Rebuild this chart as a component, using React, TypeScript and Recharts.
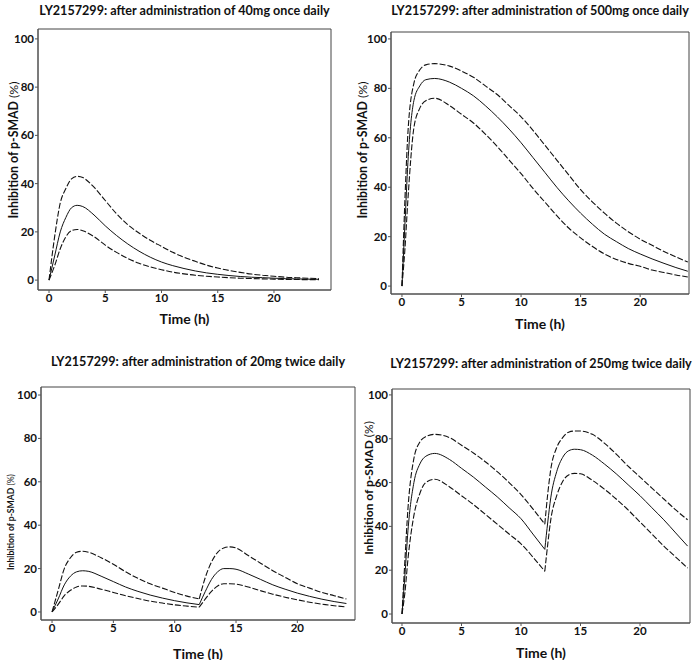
import { LineChart, Line, XAxis, YAxis, ReferenceArea } from 'recharts'

const FONT = 'Lato, "Open Sans", sans-serif'
const X_TICKS = [0, 5, 10, 15, 20]
const Y_TICKS = [0, 20, 40, 60, 80, 100]

// 40mg once daily
const T_40 = [0, 0.5, 1, 1.5, 2, 2.5, 3, 4, 5, 6, 7, 8, 9, 10, 11, 12, 13, 14, 15, 16, 17, 18, 19, 20, 21, 22, 23, 24]
const UPPER_40 = [0, 18, 32, 38, 42, 43, 42.5, 38.5, 33, 27.5, 23, 19.5, 16.5, 14, 11.5, 9.5, 7.8, 6.2, 5, 4, 3.2, 2.5, 2, 1.6, 1.2, 1, 0.8, 0.6]
const MEDIAN_40 = [0, 10, 20, 26, 30, 31, 30.5, 27, 22.5, 18.5, 15, 12, 9.5, 7.5, 6, 4.8, 3.8, 3, 2.4, 1.9, 1.5, 1.2, 1, 0.8, 0.6, 0.5, 0.4, 0.35]
const LOWER_40 = [0, 6, 13, 18, 20.5, 21, 20.5, 18, 14.5, 11.5, 9, 7, 5.5, 4.3, 3.3, 2.6, 2, 1.6, 1.3, 1, 0.8, 0.65, 0.5, 0.4, 0.3, 0.25, 0.2, 0.2]

// 500mg once daily
const T_500 = [0, 0.25, 0.5, 1, 1.5, 2, 2.75, 4, 5, 6, 7, 8, 9, 10, 11, 12, 13, 14, 15, 16, 17, 18, 19, 20, 21, 22, 23, 24]
const UPPER_500 = [0, 35, 62, 82, 87.5, 89.5, 90, 89, 87, 84.5, 81, 77.5, 73, 68.5, 63, 57, 51, 45, 39, 34, 29.5, 25.5, 22, 19, 16.5, 14, 11.8, 9.7]
const MEDIAN_500 = [0, 25, 50, 75, 81, 83.5, 84, 82.5, 80, 77, 73, 68.5, 63.5, 58, 52, 46, 40, 34.5, 29.5, 25, 21, 18, 15.2, 13, 11, 9.2, 7.5, 6]
const LOWER_500 = [0, 15, 35, 64, 72, 75, 76, 73, 69.5, 66, 61.5, 56.5, 51, 45.5, 39.5, 34, 28.5, 23.5, 19.5, 16, 13, 10.8, 9.2, 8, 6.5, 5.5, 4.5, 3.7]

// 20mg twice daily (first dose 0-12 h, second dose 12-24 h)
const T_20_A = [0, 0.5, 1, 1.5, 2, 2.5, 3, 4, 5, 6, 7, 8, 9, 10, 11, 12]
const T_20_B = [12, 12.5, 13, 13.5, 14, 14.5, 15, 16, 17, 18, 19, 20, 21, 22, 23, 24]
const UPPER_20_A = [0, 10, 20, 25, 27.5, 28, 27.5, 25, 22, 18.5, 15.5, 13, 11, 9, 7.3, 6]
const UPPER_20_B = [6, 16, 23, 27.5, 29.5, 30, 29.5, 26, 22.5, 19, 16, 13, 11, 9, 7.5, 6]
const MEDIAN_20_A = [0, 6, 12.5, 16.5, 18.5, 19, 18.7, 16.5, 14, 11.5, 9.5, 7.8, 6.4, 5.2, 4.2, 3.4]
const MEDIAN_20_B = [3.4, 9.5, 15, 18.5, 20, 20, 19.7, 17.5, 15, 12.5, 10.5, 8.7, 7.2, 5.9, 4.8, 3.9]
const LOWER_20_A = [0, 3.5, 7.5, 10, 11.5, 12, 11.8, 10.5, 9, 7.5, 6.2, 5, 4.1, 3.3, 2.7, 2.2]
const LOWER_20_B = [2.2, 6, 9.5, 12, 13, 13, 12.8, 11.5, 9.8, 8.2, 6.8, 5.6, 4.5, 3.6, 2.9, 2.3]

// 250mg twice daily
const T_250_A = [0, 0.25, 0.5, 1, 1.5, 2, 2.75, 4, 5, 6, 7, 8, 9, 10, 11, 12]
const T_250_B = [12, 12.25, 12.5, 13, 13.5, 14, 14.5, 15, 16, 17, 18, 19, 20, 21, 22, 23, 24]
const UPPER_250_A = [0, 25, 48, 71, 78.5, 81, 82, 80.5, 77, 73.5, 69.5, 65, 60, 54.5, 48, 41]
const UPPER_250_B = [41, 55, 66, 76, 80.5, 83, 83.5, 83.5, 82, 78, 73, 67.5, 62.5, 57.5, 52.5, 47.5, 43]
const MEDIAN_250_A = [0, 18, 38, 60, 68.5, 72, 73.3, 70.5, 66.5, 62.5, 58, 53.5, 48.5, 43.5, 36.5, 29.5]
const MEDIAN_250_B = [29.5, 42, 53, 65, 71.5, 74.5, 75.2, 75, 72.5, 68.5, 64, 59, 54, 48.5, 43, 37, 31]
const LOWER_250_A = [0, 10, 25, 45, 55, 60, 61.5, 58, 54, 50, 45.5, 41, 36.5, 32, 26, 19.5]
const LOWER_250_B = [19.5, 32, 43, 54, 60.5, 63.5, 64.2, 64, 61, 57, 52.5, 47.5, 42, 36.5, 31, 26, 21]

type Segment = { time: number[]; upper: number[]; median: number[]; lower: number[] }

const toRows = (s: Segment) =>
  s.time.map((t, i) => ({ t, upper: s.upper[i], median: s.median[i], lower: s.lower[i] }))

const panels = [
  {
    title: 'LY2157299: after administration of 40mg once daily',
    segments: [{ time: T_40, upper: UPPER_40, median: MEDIAN_40, lower: LOWER_40 }],
    ox: 0, oy: 0, w: 358, h: 310,
    box: { L: 38, R: 331, T: 29, B: 290 },
    xDomain: [-0.98, 25.07], yDomain: [-4.1, 104.1],
    titleY: 10, xLabelY: 318, yLabel: { x: 13, y: 150, size: 12.3 },
  },
  {
    title: 'LY2157299: after administration of 500mg once daily',
    segments: [{ time: T_500, upper: UPPER_500, median: MEDIAN_500, lower: LOWER_500 }],
    ox: 358, oy: 0, w: 342, h: 314,
    box: { L: 391, R: 689, T: 32, B: 294 },
    xDomain: [-0.92, 24.1], yDomain: [-3.2, 102.8],
    titleY: 10, xLabelY: 323, yLabel: { x: 362, y: 150, size: 12.3 },
  },
  {
    title: 'LY2157299: after administration of 20mg twice daily',
    segments: [
      { time: T_20_A, upper: UPPER_20_A, median: MEDIAN_20_A, lower: LOWER_20_A },
      { time: T_20_B, upper: UPPER_20_B, median: MEDIAN_20_B, lower: LOWER_20_B },
    ],
    ox: 0, oy: 320, w: 358, h: 340,
    box: { L: 41, R: 355, T: 387, B: 620 },
    xDomain: [-0.9, 24.7], yDomain: [-3.7, 103.7],
    titleY: 361, xLabelY: 653, yLabel: { x: 11, y: 522, size: 8.6 },
  },
  {
    title: 'LY2157299: after administration of 250mg twice daily',
    segments: [
      { time: T_250_A, upper: UPPER_250_A, median: MEDIAN_250_A, lower: LOWER_250_A },
      { time: T_250_B, upper: UPPER_250_B, median: MEDIAN_250_B, lower: LOWER_250_B },
    ],
    ox: 358, oy: 320, w: 342, h: 340,
    box: { L: 392, R: 690, T: 389, B: 623 },
    xDomain: [-0.84, 24.2], yDomain: [-4.1, 102.7],
    titleY: 363, xLabelY: 652, yLabel: { x: 368, y: 488, size: 12 },
  },
]

const tickStyle = { fontSize: 11.5, fontWeight: 700, fill: '#111', fontFamily: FONT }
const axisStroke = { stroke: '#555' }

function Panel({ p }: { p: (typeof panels)[number] }) {
  const { ox, oy, w, h, box } = p
  const cx = (box.L + box.R) / 2
  return (
    <>
      <div
        style={{
          position: 'absolute', left: cx, top: p.titleY, transform: 'translate(-50%, -50%)',
          whiteSpace: 'nowrap', fontFamily: FONT, fontWeight: 700, fontSize: 12.6, color: '#111',
        }}
      >
        {p.title}
      </div>
      <div
        style={{
          position: 'absolute', left: p.yLabel.x, top: p.yLabel.y,
          transform: 'translate(-50%, -50%) rotate(-90deg)', whiteSpace: 'nowrap',
          fontFamily: FONT, fontSize: p.yLabel.size, color: '#111',
        }}
      >
        <span style={{ fontWeight: 700 }}>Inhibition of p-SMAD</span> (%)
      </div>
      <div
        style={{
          position: 'absolute', left: cx, top: p.xLabelY, transform: 'translate(-50%, -50%)',
          whiteSpace: 'nowrap', fontFamily: FONT, fontWeight: 700, fontSize: 14, color: '#111',
        }}
      >
        Time (h)
      </div>
      <div style={{ position: 'absolute', left: ox, top: oy }}>
        <LineChart
          width={w}
          height={h}
          margin={{ top: box.T - oy, right: ox + w - box.R, bottom: 0, left: 0 }}
        >
          <XAxis
            type="number"
            dataKey="t"
            domain={p.xDomain}
            ticks={X_TICKS}
            allowDataOverflow
            height={oy + h - box.B}
            axisLine={axisStroke}
            tickLine={axisStroke}
            tickSize={3}
            tickMargin={1}
            tick={tickStyle}
          />
          <YAxis
            type="number"
            domain={p.yDomain}
            ticks={Y_TICKS}
            allowDataOverflow
            width={box.L - ox}
            axisLine={axisStroke}
            tickLine={axisStroke}
            tickSize={3}
            tickMargin={1}
            tick={tickStyle}
          />
          <ReferenceArea
            x1={p.xDomain[0]}
            x2={p.xDomain[1]}
            y1={p.yDomain[0]}
            y2={p.yDomain[1]}
            fill="none"
            stroke="#444"
            strokeWidth={1}
          />
          {p.segments.map((s, i) => {
            const rows = toRows(s)
            return [
              <Line key={`u${i}`} data={rows} dataKey="upper" type="monotone" stroke="#111" strokeWidth={1.1}
                strokeDasharray="6 2" dot={false} isAnimationActive={false} />,
              <Line key={`m${i}`} data={rows} dataKey="median" type="monotone" stroke="#111" strokeWidth={1}
                dot={false} isAnimationActive={false} />,
              <Line key={`l${i}`} data={rows} dataKey="lower" type="monotone" stroke="#111" strokeWidth={1.1}
                strokeDasharray="6 2" dot={false} isAnimationActive={false} />,
            ]
          })}
        </LineChart>
      </div>
    </>
  )
}

export default function App() {
  return (
    <div style={{ position: 'absolute', left: 0, top: 0, width: 700, height: 660, background: '#fff' }}>
      {panels.map((p) => (
        <Panel key={p.title} p={p} />
      ))}
    </div>
  )
}
